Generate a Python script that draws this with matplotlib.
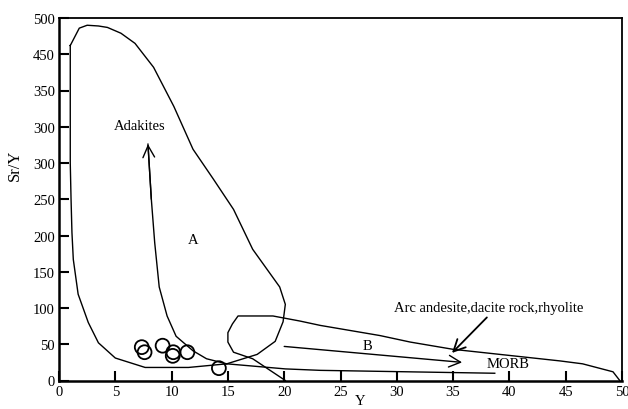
import matplotlib
matplotlib.use("Agg")
import matplotlib.pyplot as plt

# ---- data ----
# Field A (adakite field) outline
A_x = [1.0, 1.0, 1.07, 1.15, 1.27, 1.7, 2.6, 3.5, 5.0, 7.65, 11.5, 14.9, 17.6, 19.2,
       19.9, 20.1, 19.6, 17.2, 15.5, 13.7, 11.9, 10.2, 8.4, 6.75, 5.5, 4.3, 3.5, 2.5, 1.8, 1.0]
A_y = [462, 300, 250, 204, 167, 119, 80, 52, 31, 18, 18, 23, 36, 54,
       81, 105, 129, 181, 236, 278, 319, 378, 432, 465, 479, 487, 489, 490, 486, 462]

# Adakite trend curve (arrow shaft)
ADK_x = [14.9, 13.1, 11.9, 10.4, 9.6, 8.9, 8.5, 8.2, 7.9]
ADK_y = [23, 30, 41, 61, 89, 129, 190, 250, 326]

# Field B (arc andesite / dacite / rhyolite) outline
B_x = [20.1, 17.2, 15.5, 15.0, 15.0, 15.4, 15.9, 19.0, 21.4, 23.2, 28.5, 31.2, 35.0,
       44.5, 46.5, 49.2, 49.8]
B_y = [0, 30, 39, 53, 66, 78, 89, 89, 82, 76, 62, 53, 43, 27, 23, 12, 0]

# MORB line
MORB_x = [14.9, 20.1, 23.2, 38.7]
MORB_y = [23, 16, 14, 10]

# B trend arrow
BARR_x = [20.0, 35.8]
BARR_y = [47, 25]

# Arc label arrow
ARC_x = [38.0, 34.9]
ARC_y = [87, 38]

# samples
S_x = [7.35, 7.6, 9.2, 10.15, 10.1, 11.4, 14.2]
S_y = [46, 39, 48, 39, 34, 39, 17]

x_ticks = [0, 5, 10, 15, 20, 25, 30, 35, 40, 45, 50]
x_labels = ['0', '5', '10', '15', '20', '25', '30', '35', '40', '45', '50']
y_ticks = [0, 50, 100, 150, 200, 250, 300, 350, 400, 450, 500]
y_labels = ['0', '50', '100', '150', '200', '250', '300', '300', '350', '450', '500']

plt.rcParams['font.family'] = ['Liberation Serif', 'DejaVu Serif']

fig = plt.figure(figsize=(6.28, 4.10), dpi=100)
ax = fig.add_axes([59/628, 1 - 381.5/410, 563/628, 362.5/410])

lw = 1.0
ax.plot(A_x, A_y, color='black', lw=lw)
ax.plot(ADK_x, ADK_y, color='black', lw=lw)
ax.plot(B_x, B_y, color='black', lw=lw)
ax.plot(MORB_x, MORB_y, color='black', lw=lw)

head = '->, head_length=0.6, head_width=0.3'
# arrow head at top of adakite trend
ax.annotate('', xy=(ADK_x[-1], ADK_y[-1]), xytext=(ADK_x[-2], ADK_y[-2]),
            arrowprops=dict(arrowstyle=head, color='black', lw=lw,
                            mutation_scale=14, shrinkA=0, shrinkB=0))
# B trend arrow
ax.annotate('', xy=(BARR_x[1], BARR_y[1]), xytext=(BARR_x[0], BARR_y[0]),
            arrowprops=dict(arrowstyle=head, color='black', lw=lw,
                            mutation_scale=14, shrinkA=0, shrinkB=0))
# Arc label arrow
ax.annotate('', xy=(ARC_x[1], ARC_y[1]), xytext=(ARC_x[0], ARC_y[0]),
            arrowprops=dict(arrowstyle=head, color='black', lw=1.3,
                            mutation_scale=14, shrinkA=0, shrinkB=0))

ax.scatter(S_x, S_y, s=100, facecolors='none', edgecolors='black', linewidths=1.3, zorder=3)

fs = 10.5
ax.text(7.2, 352, 'Adakites', ha='center', va='center', fontsize=fs)
ax.text(11.9, 195, 'A', ha='center', va='center', fontsize=fs)
ax.text(27.4, 48, 'B', ha='center', va='center', fontsize=fs)
ax.text(39.9, 23, 'MORB', ha='center', va='center', fontsize=fs)
ax.text(38.2, 101, 'Arc andesite,dacite rock,rhyolite', ha='center', va='center', fontsize=fs)

ax.set_xlim(0, 50)
ax.set_ylim(0, 500)
ax.set_xticks(x_ticks)
ax.set_xticklabels(x_labels)
ax.set_yticks(y_ticks)
ax.set_yticklabels(y_labels)
ax.tick_params(direction='in', length=7, width=1.5, labelsize=10.5, pad=3)

for side in ['left', 'bottom']:
    ax.spines[side].set_linewidth(1.8)
for side in ['top', 'right']:
    ax.spines[side].set_linewidth(1.3)

ax.set_xlabel('Y', fontsize=10.5, va='bottom')
ax.xaxis.set_label_coords(0.535, -0.074)
ax.set_ylabel('Sr/Y', fontsize=12, va='center')
ax.yaxis.set_label_coords(-0.078, 0.597)

fig.savefig('out.png', dpi=100)
